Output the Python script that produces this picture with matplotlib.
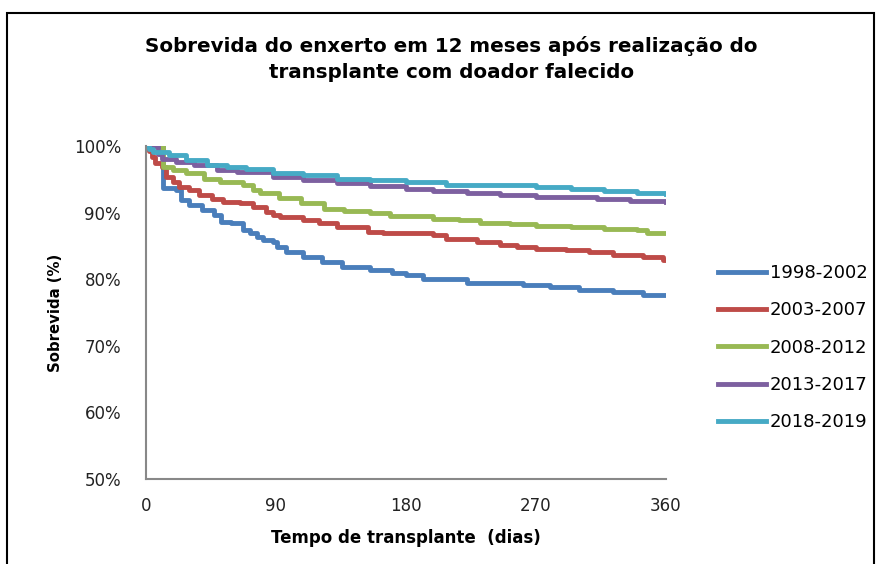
import matplotlib.pyplot as plt
import matplotlib.patches as patches
from matplotlib.ticker import FuncFormatter

# --- Data (survival % by day) ---
labels = ['1998-2002', '2003-2007', '2008-2012', '2013-2017', '2018-2019']
colors = ['#4A7EBB', '#BE4B48', '#98B954', '#7D60A0', '#46AAC5']

days_1998 = [0, 12, 21, 24, 30, 39, 47, 52, 59, 67, 72, 77, 81, 88, 91, 97, 109, 122, 136, 155, 170, 180,
             192, 222, 261, 280, 300, 323, 344, 360]
surv_1998 = [100, 93.7, 93.4, 91.9, 91.1, 90.4, 89.6, 88.6, 88.4, 87.4, 86.9, 86.4, 85.9, 85.6, 84.9, 84.1,
             83.4, 82.6, 81.9, 81.4, 80.9, 80.6, 80.1, 79.4, 79.1, 78.8, 78.4, 78.1, 77.6, 77.6]

days_2003 = [0, 2, 4, 6, 11, 14, 19, 23, 30, 37, 46, 53, 65, 74, 83, 88, 93, 109, 120, 132, 154, 164, 199,
             208, 229, 245, 257, 270, 291, 307, 323, 344, 358, 360]
surv_2003 = [100, 99.2, 98.4, 97.4, 96.9, 95.4, 94.6, 93.9, 93.4, 92.6, 92.1, 91.6, 91.4, 90.9, 90.1, 89.6,
             89.4, 88.9, 88.4, 87.9, 87.1, 86.9, 86.6, 86.1, 85.6, 85.1, 84.8, 84.5, 84.4, 84.1, 83.6, 83.3,
             82.9, 82.9]

days_2008 = [0, 12, 19, 28, 40, 51, 67, 74, 79, 92, 107, 123, 137, 155, 169, 199, 217, 231, 252, 270, 294,
             317, 340, 347, 360]
surv_2008 = [100, 96.9, 96.4, 95.9, 95.1, 94.6, 94.1, 93.4, 92.9, 92.2, 91.4, 90.6, 90.3, 89.9, 89.5, 89.1,
             88.9, 88.4, 88.3, 88.0, 87.9, 87.6, 87.4, 87.0, 87.0]

days_2013 = [0, 8, 11, 21, 33, 49, 63, 88, 109, 132, 155, 180, 199, 222, 245, 270, 289, 312, 335, 360]
surv_2013 = [100, 98.8, 98.1, 97.6, 97.1, 96.4, 96.1, 95.3, 94.9, 94.4, 94.0, 93.6, 93.3, 93.0, 92.6, 92.4,
             92.3, 92.0, 91.8, 91.6]

days_2018 = [0, 2, 5, 16, 28, 42, 56, 69, 88, 109, 132, 155, 180, 208, 245, 270, 294, 317, 340, 360]
surv_2018 = [100, 99.5, 99.1, 98.6, 97.9, 97.1, 96.9, 96.5, 95.9, 95.6, 95.1, 94.9, 94.6, 94.2, 94.1, 93.9,
             93.6, 93.2, 93.0, 92.8]

series = [(days_1998, surv_1998), (days_2003, surv_2003), (days_2008, surv_2008),
          (days_2013, surv_2013), (days_2018, surv_2018)]

plt.rcParams['font.family'] = ['DejaVu Sans']

fig = plt.figure(figsize=(8.78, 5.64), dpi=100)
ax = fig.add_axes([0.1663, 0.1507, 0.5922, 0.5904])

for (d, s), lab, c in zip(series, labels, colors):
    ax.plot(d, s, drawstyle='steps-post', color=c, lw=3.5, label=lab)

ax.set_xlim(0, 360)
ax.set_ylim(50, 100)
ax.set_xticks([0, 90, 180, 270, 360])
ax.set_yticks([50, 60, 70, 80, 90, 100])
ax.yaxis.set_major_formatter(FuncFormatter(lambda v, p: f'{v:.0f}%'))
ax.tick_params(length=0, labelsize=12, colors='#222222')
ax.tick_params(axis='x', pad=13)
ax.tick_params(axis='y', pad=18)

for sp in ['top', 'right']:
    ax.spines[sp].set_visible(False)
for sp in ['left', 'bottom']:
    ax.spines[sp].set_color('#888888')
    ax.spines[sp].set_linewidth(1.5)

ax.set_xlabel('Tempo de transplante  (dias)', fontsize=12, fontweight='bold', labelpad=10)
ax.set_ylabel('Sobrevida (%)', fontsize=10.7, fontweight='bold', labelpad=8)

fig.text(0.514, 0.895, 'Sobrevida do enxerto em 12 meses após realização do\ntransplante com doador falecido',
         ha='center', va='center', fontsize=14.3, fontweight='bold', linespacing=1.45)

ax.legend(loc='center left', bbox_to_anchor=(1.068, 0.394), frameon=False,
          fontsize=13, handlelength=2.7, handletextpad=0.2, labelspacing=1.07)

# outer border of the chart
fig.patches.append(patches.Rectangle((7 / 878, -0.1), 867 / 878, 1.1 - 13 / 564,
                                     transform=fig.transFigure, fill=False,
                                     edgecolor='black', lw=1.5))

fig.savefig('out.png', dpi=100)
